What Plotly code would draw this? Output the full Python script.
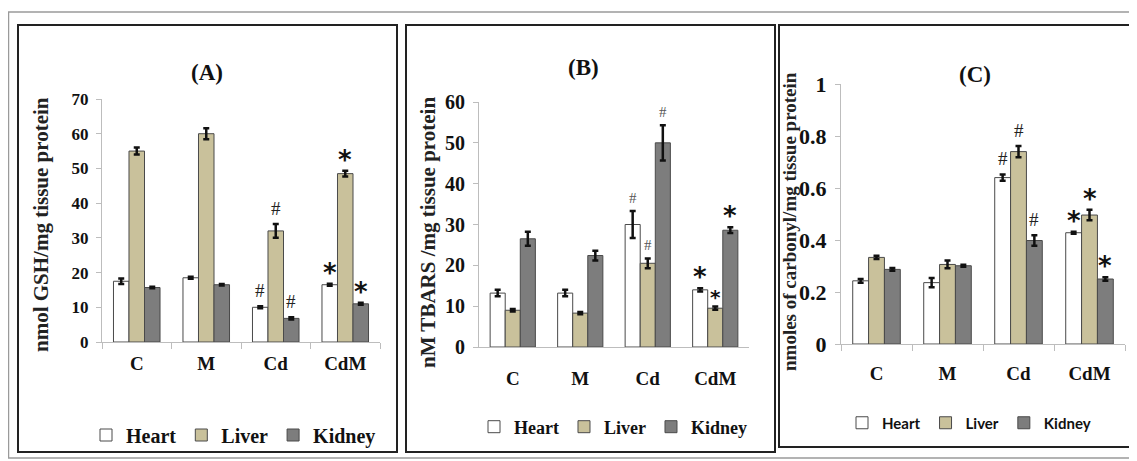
import plotly.graph_objects as go

W, H = 1137, 461          # browser window
OX, OY = 8, 8             # page body margin offset
FW, FH = W - OX, H - OY   # figure size so that it fits the window

# ---------------- data ----------------
categories = ["C", "M", "Cd", "CdM"]
tissues = ["Heart", "Liver", "Kidney"]

# (A) GSH, nmol/mg tissue protein
gsh_heart = [17.5, 18.5, 10.0, 16.5]
gsh_liver = [55.0, 60.0, 32.0, 48.5]
gsh_kidney = [15.7, 16.5, 6.8, 11.0]
gsh_heart_err = [0.8, 0.3, 0.3, 0.3]
gsh_liver_err = [1.0, 1.6, 2.0, 0.8]
gsh_kidney_err = [0.2, 0.2, 0.3, 0.3]

# (B) TBARS, nM/mg tissue protein
tbars_heart = [13.2, 13.2, 30.0, 14.0]
tbars_liver = [9.0, 8.3, 20.5, 9.5]
tbars_kidney = [26.5, 22.4, 50.0, 28.6]
tbars_heart_err = [0.8, 0.8, 3.3, 0.4]
tbars_liver_err = [0.3, 0.3, 1.2, 0.4]
tbars_kidney_err = [1.7, 1.2, 4.3, 0.7]

# (C) carbonyl, nmoles/mg tissue protein
carb_heart = [0.243, 0.236, 0.640, 0.428]
carb_liver = [0.333, 0.306, 0.740, 0.496]
carb_kidney = [0.287, 0.301, 0.398, 0.250]
carb_heart_err = [0.007, 0.018, 0.012, 0.004]
carb_liver_err = [0.006, 0.015, 0.022, 0.020]
carb_kidney_err = [0.005, 0.004, 0.020, 0.007]

# significance marks (# vs control, * vs Cd)
marks_heart = ["", "", "#", "*"]
marks_liver = ["", "", "#", "*"]
marks_kidney = ["", "", "#", "*"]

y_titles = ["nmol GSH/mg tissue protein", "nM TBARS /mg tissue protein",
            "nmoles of carbonyl/mg tissue protein"]
panel_titles = ["(A)", "(B)", "(C)"]

# ---------------- style ----------------
fills = {"Heart": "#ffffff", "Liver": "#c9c19b", "Kidney": "#7d7d7d"}
SERIF = "Liberation Serif"
SANS = "Lato"
BARGAP = 0.33


def px(x):
    return (x - OX) / FW


def py(y):
    return 1 - (y - OY) / FH


fig = go.Figure()

panels = [
    dict(vals=[gsh_heart, gsh_liver, gsh_kidney],
         errs=[gsh_heart_err, gsh_liver_err, gsh_kidney_err],
         xa="x", ya="y", leg="legend"),
    dict(vals=[tbars_heart, tbars_liver, tbars_kidney],
         errs=[tbars_heart_err, tbars_liver_err, tbars_kidney_err],
         xa="x2", ya="y2", leg="legend2"),
    dict(vals=[carb_heart, carb_liver, carb_kidney],
         errs=[carb_heart_err, carb_liver_err, carb_kidney_err],
         xa="x3", ya="y3", leg="legend3"),
]
marks = [marks_heart, marks_liver, marks_kidney]

for p in panels:
    for t, v, e in zip(tissues, p["vals"], p["errs"]):
        fig.add_trace(go.Bar(
            x=categories, y=v, name=t,
            xaxis=p["xa"], yaxis=p["ya"], legend=p["leg"],
            marker=dict(color=fills[t], line=dict(color="#4a4a4a", width=1)),
            error_y=dict(type="data", array=e, visible=True,
                         color="#111111", thickness=2.5, width=3),
        ))

# significance annotations
slot = (1 - BARGAP) / 3
for pi, p in enumerate(panels):
    for ti, t in enumerate(tissues):
        for ci, c in enumerate(categories):
            m = marks[ti][ci]
            if not m:
                continue
            top = p["vals"][ti][ci] + p["errs"][ti][ci]
            if m == "#":
                font = dict(family=SERIF, size=19 if pi != 1 else 15,
                            color="#222222" if pi != 1 else "#555555")
                shift = 3
            else:
                small = (pi == 1 and ti == 1)
                font = dict(family="DejaVu Sans", size=20 if small else 26,
                            color="#111111", weight="bold")
                shift = -4 if small else -6
            fig.add_annotation(
                x=ci + (ti - 1) * slot, y=top, xref=p["xa"], yref=p["ya"],
                text=m, showarrow=False, yanchor="bottom", yshift=shift,
                font=font,
            )

# ---------------- axes ----------------
# pixel geometry of each plot area (left, right, y of zero, y of top)
geo = [(102, 380, 342, 99), (479, 749, 347, 102), (841, 1125, 344, 84)]
yranges = [[0, 70], [0, 60], [0, 1]]
ydticks = [10, 10, 0.2]
ytickfont = [17, 20, 22]
xticks = ["outside", "", "outside"]
xstandoff = [4, 14, 12]

for i, ((l, r, y0, y1), yr, dt) in enumerate(zip(geo, yranges, ydticks)):
    sfx = "" if i == 0 else str(i + 1)
    fig.update_layout(**{
        "xaxis" + sfx: dict(
            domain=[px(l), px(r)], anchor="y" + sfx, type="category",
            categoryorder="array", categoryarray=categories,
            showline=True, linecolor="#bdbdbd", linewidth=1.2,
            ticks=xticks[i], tickson="boundaries", ticklen=6, tickcolor="#bdbdbd",
            showgrid=False, zeroline=False, fixedrange=True, automargin=False,
            tickfont=dict(family=SERIF, size=19, color="#111111", weight="bold"),
            ticklabelstandoff=xstandoff[i],
        ),
        "yaxis" + sfx: dict(
            domain=[py(y0), py(y1)], anchor="x" + sfx, range=yr, dtick=dt,
            tick0=0, showline=True, linecolor="#bdbdbd", linewidth=1.2,
            ticks="outside", ticklen=5, tickcolor="#bdbdbd",
            showgrid=False, zeroline=False, fixedrange=True, automargin=False,
            tickfont=dict(family=SERIF, size=ytickfont[i], color="#111111", weight="bold"),
            ticklabelstandoff=4,
        ),
    })

# ---------------- titles ----------------
title_pos = [(207, 72), (583, 67), (975, 75)]
for (x, y), t in zip(title_pos, panel_titles):
    fig.add_annotation(x=px(x), y=py(y), xref="paper", yref="paper", text=t,
                       showarrow=False, xanchor="center", yanchor="middle",
                       font=dict(family=SERIF, size=23, color="#111111", weight="bold"))

ytitle_pos = [(41, 225, 21), (428, 233, 21), (789, 222, 19)]
for (x, y, s), t in zip(ytitle_pos, y_titles):
    fig.add_annotation(x=px(x), y=py(y), xref="paper", yref="paper", text=t,
                       showarrow=False, textangle=-90, xanchor="center", yanchor="middle",
                       font=dict(family=SERIF, size=s, color="#222222", weight="bold"))

# ---------------- legends ----------------
leg_common = dict(orientation="h", xanchor="left", yanchor="middle",
                  bgcolor="rgba(0,0,0,0)", borderwidth=0, itemwidth=30,
                  itemclick=False, itemdoubleclick=False)
fig.update_layout(
    legend=dict(x=px(86), y=py(435), **leg_common,
                font=dict(family=SERIF, size=20, color="#111111", weight="bold")),
    legend2=dict(x=px(474), y=py(427), **leg_common,
                 font=dict(family=SERIF, size=18, color="#111111", weight="bold")),
    legend3=dict(x=px(842), y=py(423), **leg_common,
                 font=dict(family=SANS, size=15, color="#111111", weight="bold")),
)

# ---------------- frames ----------------
shapes = [
    dict(type="rect", xref="paper", yref="paper", x0=px(8.5), x1=px(1131), y0=py(458), y1=py(12),
         line=dict(color="#9a9a9a", width=1.5)),
    dict(type="rect", xref="paper", yref="paper", x0=px(18), x1=px(397), y0=py(452), y1=py(25),
         line=dict(color="#222222", width=2)),
    dict(type="rect", xref="paper", yref="paper", x0=px(406), x1=px(775), y0=py(452), y1=py(25),
         line=dict(color="#222222", width=2)),
    dict(type="rect", xref="paper", yref="paper", x0=px(779), x1=px(1130), y0=py(447), y1=py(25),
         line=dict(color="#222222", width=2)),
]

fig.update_layout(
    width=FW, height=FH, margin=dict(l=0, r=0, t=0, b=0, pad=0, autoexpand=False),
    paper_bgcolor="white", plot_bgcolor="white",
    barmode="group", bargap=BARGAP, bargroupgap=0,
    showlegend=True, shapes=shapes,
)

fig.write_html("out.html")
